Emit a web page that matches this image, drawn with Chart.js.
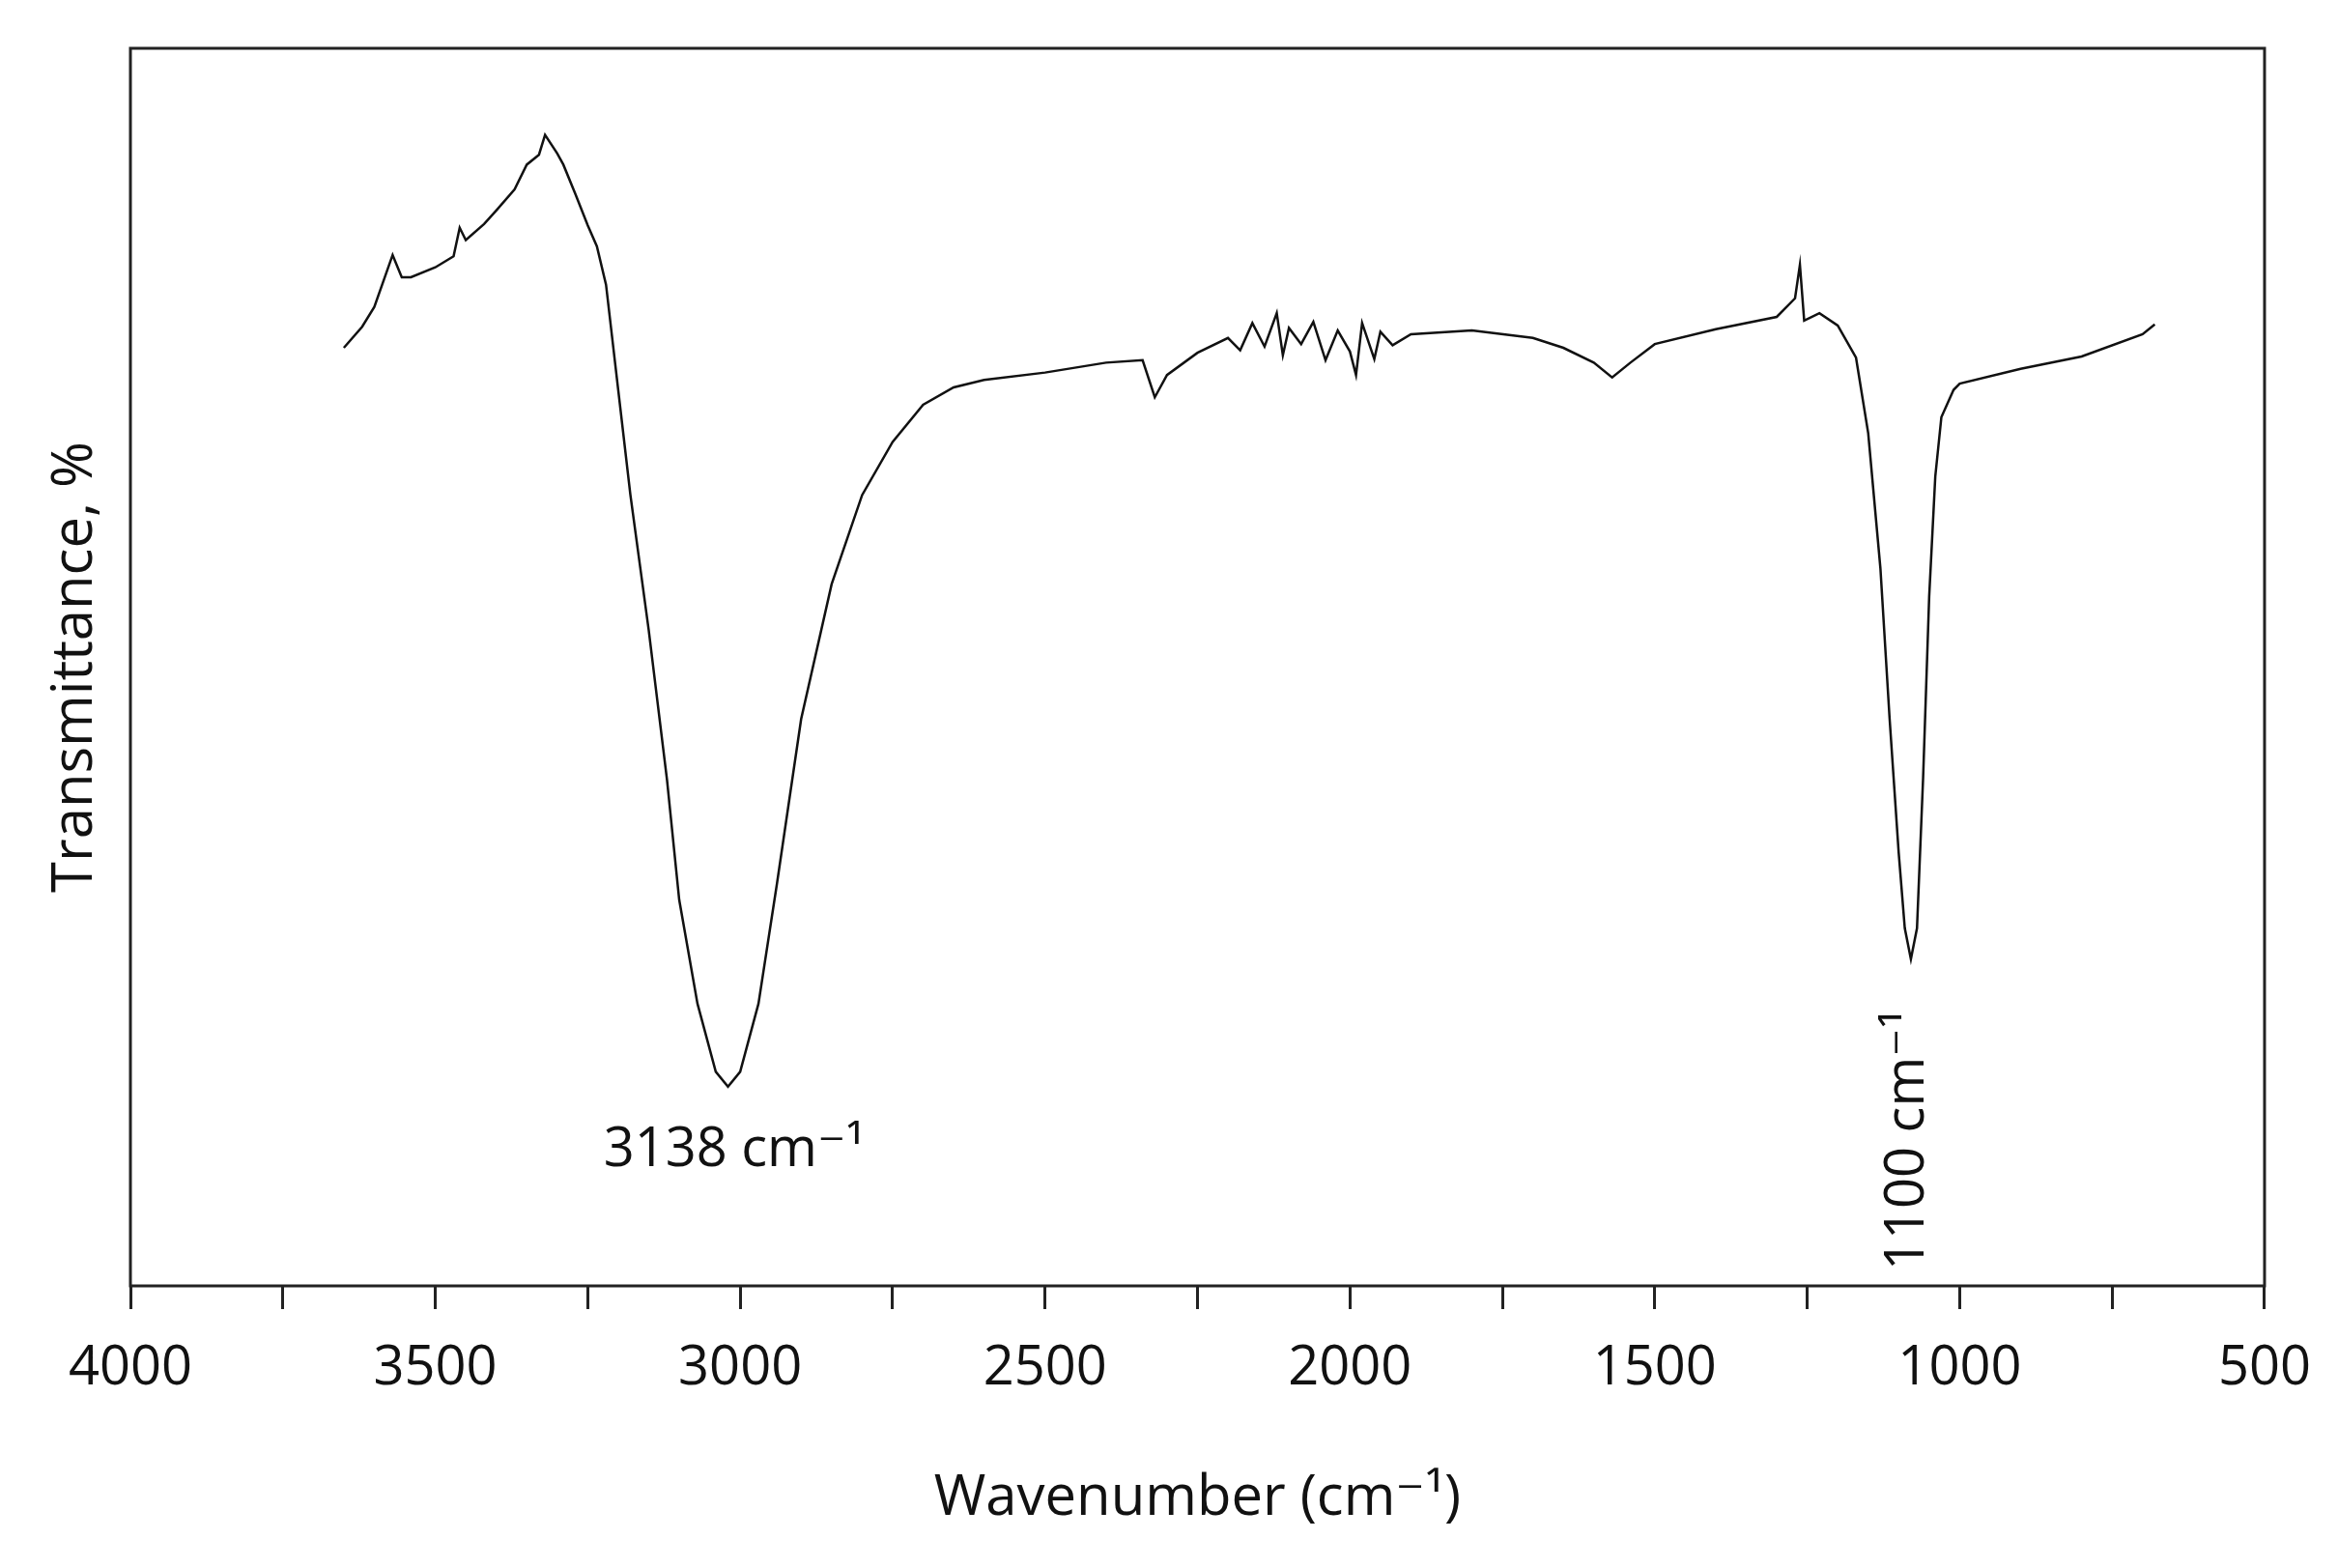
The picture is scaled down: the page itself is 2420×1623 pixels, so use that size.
<!DOCTYPE html>
<html>
<head>
<meta charset="utf-8">
<script src="https://cdn.jsdelivr.net/npm/chart.js@4.4.1/dist/chart.umd.min.js"></script>
<style>
  html, body { margin: 0; padding: 0; background: #fff; }
  #wrap { width: 2420px; height: 1623px; }
</style>
</head>
<body>
<div id="wrap"><canvas id="irChart"></canvas></div>
<script>
// wavenumbers (cm-1) and transmittance (arbitrary %)
const wavenumbers = [3650, 3620, 3600, 3570, 3555, 3540, 3500, 3470, 3460, 3450, 3420, 3400, 3370, 3350, 3330, 3320, 3300, 3290, 3270, 3250, 3235, 3220, 3200, 3180, 3150, 3120, 3100, 3070, 3040, 3020, 3000, 2970, 2940, 2900, 2850, 2800, 2750, 2700, 2650, 2600, 2500, 2400, 2340, 2320, 2300, 2250, 2200, 2180, 2160, 2140, 2120, 2110, 2100, 2080, 2060, 2040, 2020, 2000, 1990, 1980, 1960, 1950, 1930, 1900, 1800, 1700, 1650, 1600, 1570, 1540, 1500, 1400, 1300, 1270, 1262, 1255, 1230, 1200, 1170, 1150, 1130, 1115, 1100, 1090, 1080, 1070, 1060, 1050, 1040, 1030, 1010, 1000, 900, 800, 700, 680];
const transmittance = [75.8, 77.5, 79.1, 83.3, 81.5, 81.5, 82.3, 83.2, 85.5, 84.5, 85.8, 86.9, 88.6, 90.6, 91.4, 93.0, 91.5, 90.6, 88.2, 85.7, 84.0, 80.9, 72.4, 63.9, 53.0, 40.9, 31.2, 22.8, 17.3, 16.1, 17.3, 22.8, 32.4, 45.8, 56.7, 63.9, 68.2, 71.2, 72.6, 73.2, 73.8, 74.6, 74.8, 71.8, 73.6, 75.4, 76.6, 75.6, 77.8, 75.9, 78.6, 75.2, 77.4, 76.1, 77.9, 74.8, 77.2, 75.5, 73.6, 77.8, 74.9, 77.1, 76.0, 76.9, 77.2, 76.6, 75.8, 74.6, 73.4, 74.6, 76.1, 77.3, 78.3, 79.8, 82.5, 78.0, 78.6, 77.6, 75.0, 68.9, 58.0, 45.9, 35.0, 28.9, 26.4, 28.9, 41.0, 55.7, 65.4, 70.2, 72.4, 72.9, 74.1, 75.1, 76.9, 77.7];
const xTickLabels = [4000, 3500, 3000, 2500, 2000, 1500, 1000, 500];
const peakLabels = ['3138 cm⁻¹', '1100 cm⁻¹'];

const points = wavenumbers.map((w, i) => ({ x: w, y: transmittance[i] }));
const FONT = '"Open Sans", "DejaVu Sans", sans-serif';

const framePlugin = {
  id: 'frame',
  afterDraw(chart) {
    const { ctx, chartArea: a, scales } = chart;
    ctx.save();
    ctx.strokeStyle = '#222';
    ctx.lineWidth = 3;
    ctx.strokeRect(a.left, a.top, a.right - a.left, a.bottom - a.top);
    ctx.fillStyle = '#111';
    ctx.textAlign = 'center';
    ctx.textBaseline = 'middle';
    ctx.font = '58px ' + FONT;
    // axis titles
    ctx.fillText('Wavenumber (cm⁻¹)', (a.left + a.right) / 2, 1551);
    ctx.save();
    ctx.translate(78, (a.top + a.bottom) / 2);
    ctx.rotate(-Math.PI / 2);
    ctx.fillText('Transmittance, %', 0, 0);
    ctx.restore();
    // peak labels
    ctx.font = '56px ' + FONT;
    ctx.fillText(peakLabels[0], scales.x.getPixelForValue(3010), scales.y.getPixelForValue(10.9));
    ctx.save();
    ctx.translate(scales.x.getPixelForValue(1085), scales.y.getPixelForValue(11.8));
    ctx.rotate(-Math.PI / 2);
    ctx.fillText(peakLabels[1], 0, 0);
    ctx.restore();
    ctx.restore();
  }
};

new Chart(document.getElementById('irChart').getContext('2d'), {
  type: 'line',
  data: {
    datasets: [{
      data: points,
      borderColor: '#111',
      borderWidth: 2.5,
      pointRadius: 0,
      tension: 0,
      fill: false
    }]
  },
  options: {
    responsive: true,
    maintainAspectRatio: false,
    animation: false,
    layout: { padding: { top: 50, right: 64, left: 0, bottom: 0 } },
    plugins: { legend: { display: false }, tooltip: { enabled: false } },
    scales: {
      x: {
        type: 'linear',
        reverse: true,
        min: 500,
        max: 4000,
        border: { display: false },
        grid: { drawOnChartArea: false, tickLength: 24, color: '#222', lineWidth: 3 },
        ticks: {
          stepSize: 250,
          color: '#111',
          padding: 28,
          font: { size: 56, family: FONT },
          maxRotation: 0,
          autoSkip: false,
          callback: v => xTickLabels.includes(v) ? String(v) : ''
        },
        afterFit(scale) { scale.height = 292; }
      },
      y: {
        min: 0,
        max: 100,
        border: { display: false },
        grid: { display: false },
        ticks: { display: false },
        afterFit(scale) { scale.width = 135; }
      }
    }
  },
  plugins: [framePlugin]
});
</script>
</body>
</html>
